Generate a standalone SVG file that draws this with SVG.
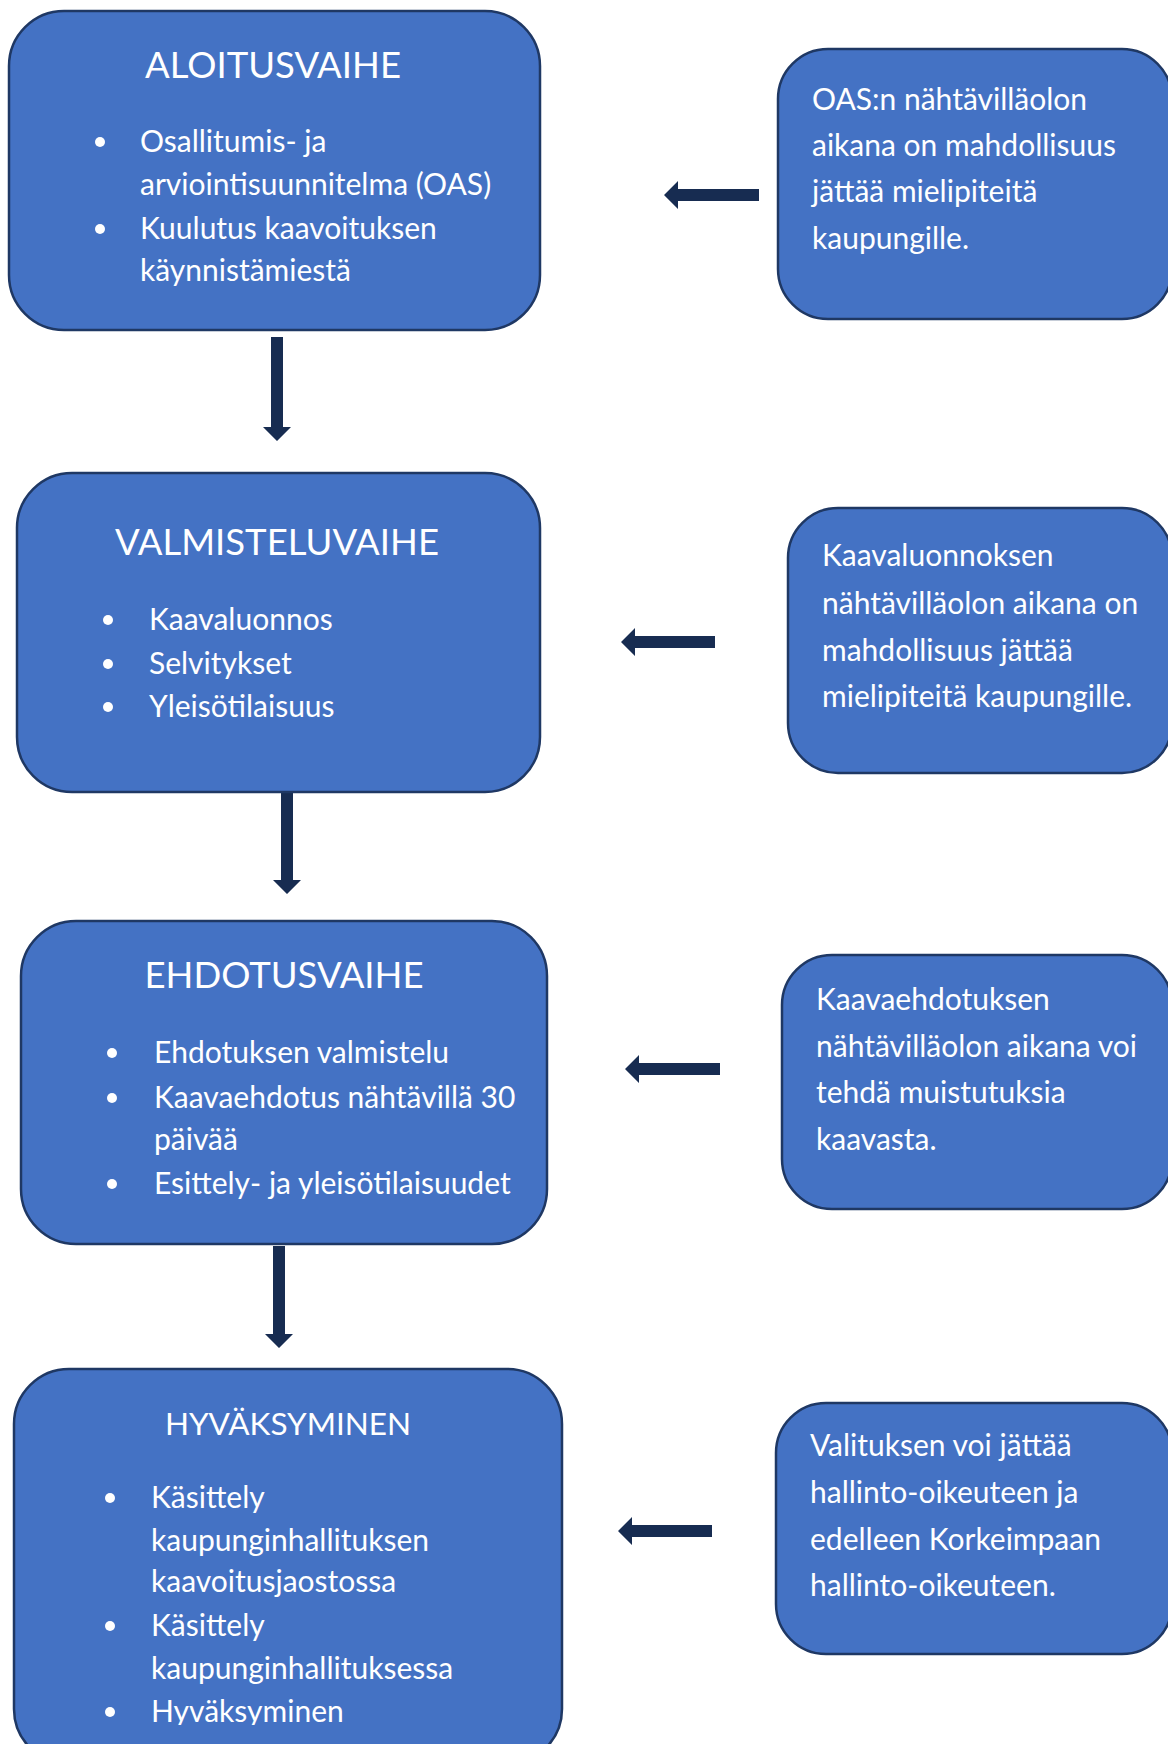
<svg xmlns="http://www.w3.org/2000/svg" width="1168" height="1744" viewBox="0 0 1168 1744">
<defs>
<style>
.box{fill:#4472C4;stroke:#1F3864;stroke-width:2.5}
.t{font-family:Lato,"Open Sans","Liberation Sans",sans-serif;fill:#FFFFFF}
.title{font-size:36.5px;text-anchor:middle}
.body{font-size:30px}
.bul{fill:#FFFFFF}
.arr{fill:#172C51}
</style>
<clipPath id="clip4"><rect x="0" y="1300" width="700" height="425"/></clipPath>
</defs>
<rect width="1168" height="1744" fill="#FFFFFF"/>

<g id="connectors">
<polygon class="arr" points="271,337 283,337 283,427 291,427 277,441 263,427 271,427"/>
<polygon class="arr" points="281,793 293,793 293,880 301,880 287,894 273,880 281,880"/>
<polygon class="arr" points="273,1246 285,1246 285,1334 293,1334 279,1348 265,1334 273,1334"/>
<polygon class="arr" points="759,189 759,201 678,201 678,209 664,195 678,181 678,189"/>
<polygon class="arr" points="715,636 715,648 635,648 635,656 621,642 635,628 635,636"/>
<polygon class="arr" points="720,1063 720,1075 639,1075 639,1083 625,1069 639,1055 639,1063"/>
<polygon class="arr" points="712,1525 712,1537 632,1537 632,1545 618,1531 632,1517 632,1525"/>
</g>

<g id="aloitusvaihe">
<rect class="box" x="9" y="11" width="531" height="319" rx="55"/>
<text class="t title" x="273" y="78">ALOITUSVAIHE</text>
<circle class="bul" cx="100" cy="142" r="5"/>
<circle class="bul" cx="100" cy="229" r="5"/>
<text class="t body" x="140" y="152">Osallitumis- ja</text>
<text class="t body" x="140" y="195">arviointisuunnitelma (OAS)</text>
<text class="t body" x="140" y="239">Kuulutus kaavoituksen</text>
<text class="t body" x="140" y="281">käynnistämiestä</text>
</g>

<g id="oas-info">
<rect class="box" x="778" y="49" width="394" height="270" rx="50"/>
<text class="t body" x="812" y="110">OAS:n nähtävilläolon</text>
<text class="t body" x="812" y="156">aikana on mahdollisuus</text>
<text class="t body" x="812" y="202">jättää mielipiteitä</text>
<text class="t body" x="812" y="249">kaupungille.</text>
</g>

<g id="valmisteluvaihe">
<rect class="box" x="17" y="473" width="523" height="319" rx="55"/>
<text class="t title" x="277" y="555">VALMISTELUVAIHE</text>
<circle class="bul" cx="108" cy="620" r="5"/>
<circle class="bul" cx="108" cy="664" r="5"/>
<circle class="bul" cx="108" cy="707" r="5"/>
<text class="t body" x="149" y="630">Kaavaluonnos</text>
<text class="t body" x="149" y="674">Selvitykset</text>
<text class="t body" x="149" y="717">Yleisötilaisuus</text>
</g>

<g id="luonnos-info">
<rect class="box" x="788" y="508" width="384" height="265" rx="50"/>
<text class="t body" x="822" y="566">Kaavaluonnoksen</text>
<text class="t body" x="822" y="614">nähtävilläolon aikana on</text>
<text class="t body" x="822" y="661">mahdollisuus jättää</text>
<text class="t body" x="822" y="707">mielipiteitä kaupungille.</text>
</g>

<g id="ehdotusvaihe">
<rect class="box" x="21" y="921" width="526" height="323" rx="55"/>
<text class="t title" x="284" y="988">EHDOTUSVAIHE</text>
<circle class="bul" cx="112" cy="1053" r="5"/>
<circle class="bul" cx="112" cy="1098" r="5"/>
<circle class="bul" cx="112" cy="1184" r="5"/>
<text class="t body" x="154" y="1063">Ehdotuksen valmistelu</text>
<text class="t body" x="154" y="1108">Kaavaehdotus nähtävillä 30</text>
<text class="t body" x="154" y="1150">päivää</text>
<text class="t body" x="154" y="1194">Esittely- ja yleisötilaisuudet</text>
</g>

<g id="ehdotus-info">
<rect class="box" x="782" y="955" width="390" height="254" rx="50"/>
<text class="t body" x="816" y="1010">Kaavaehdotuksen</text>
<text class="t body" x="816" y="1057">nähtävilläolon aikana voi</text>
<text class="t body" x="816" y="1103">tehdä muistutuksia</text>
<text class="t body" x="816" y="1150">kaavasta.</text>
</g>

<g id="hyvaksyminen">
<rect class="box" x="14" y="1369" width="548" height="395" rx="55"/>
<text class="t title" x="288" y="1435" style="font-size:31.5px">HYVÄKSYMINEN</text>
<circle class="bul" cx="110" cy="1498" r="5"/>
<circle class="bul" cx="110" cy="1626" r="5"/>
<circle class="bul" cx="110" cy="1712" r="5"/>
<text class="t body" x="151" y="1508">Käsittely</text>
<text class="t body" x="151" y="1551">kaupunginhallituksen</text>
<text class="t body" x="151" y="1592">kaavoitusjaostossa</text>
<text class="t body" x="151" y="1636">Käsittely</text>
<text class="t body" x="151" y="1679">kaupunginhallituksessa</text>
<text class="t body" x="151" y="1722" clip-path="url(#clip4)">Hyväksyminen</text>
</g>

<g id="valitus-info">
<rect class="box" x="776" y="1403" width="396" height="251" rx="50"/>
<text class="t body" x="810" y="1456">Valituksen voi jättää</text>
<text class="t body" x="810" y="1503">hallinto-oikeuteen ja</text>
<text class="t body" x="810" y="1550">edelleen Korkeimpaan</text>
<text class="t body" x="810" y="1596">hallinto-oikeuteen.</text>
</g>
</svg>
